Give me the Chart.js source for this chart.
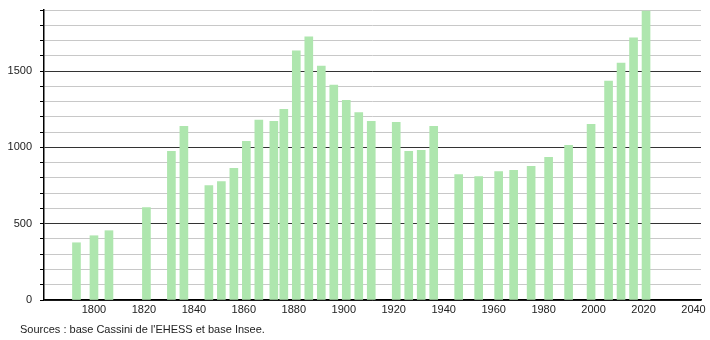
<!DOCTYPE html>
<html>
<head>
<meta charset="utf-8">
<script src="https://cdn.jsdelivr.net/npm/chart.js@4/dist/chart.umd.min.js"></script>
<style>
    body { margin: 0; background: #fff; }
    #wrap { position: relative; width: 710px; height: 340px; }
    #source {
        position: absolute; left: 20px; top: 323px;
        font: 11px "Liberation Sans", Arial, sans-serif; color: #222;
    }
</style>
</head>
<body>
<div id="wrap">
    <canvas id="popChart" width="710" height="340"></canvas>
    <div id="source">Sources : base Cassini de l'EHESS et base Insee.</div>
</div>
<script>
// Census years and population
const years = [1793, 1800, 1806, 1821, 1831, 1836, 1846, 1851, 1856, 1861, 1866, 1872, 1876,
    1881, 1886, 1891, 1896, 1901, 1906, 1911, 1921, 1926, 1931, 1936, 1946, 1954, 1962,
    1968, 1975, 1982, 1990, 1999, 2006, 2011, 2016, 2021];
const population = [375, 421, 454, 605, 974, 1138, 750, 776, 862, 1039, 1178, 1171, 1250,
    1632, 1724, 1533, 1408, 1309, 1228, 1171, 1164, 974, 980, 1138, 822, 809, 842,
    849, 875, 934, 1013, 1151, 1434, 1553, 1717, 1893];
const yTickLabels = [0, 500, 1000, 1500];
const xTickLabels = [1800, 1820, 1840, 1860, 1880, 1900, 1920, 1940, 1960, 1980, 2000, 2020, 2040];

const font = { family: '"Liberation Sans", Arial, sans-serif', size: 11 };
const tinyFont = { family: '"Liberation Sans", Arial, sans-serif', size: 1 };

const ctx = document.getElementById('popChart').getContext('2d');
const popChart = new Chart(ctx, {
    type: 'bar',
    data: {
        datasets: [{
            data: years.map((yr, i) => ({ x: yr, y: population[i] })),
            backgroundColor: '#aee6ae',
            borderWidth: 0,
            barThickness: 8
        }]
    },
    options: {
        responsive: false,
        animation: false,
        layout: { padding: { left: 0, right: 9, top: 10, bottom: 0 } },
        plugins: {
            legend: { display: false },
            tooltip: { enabled: false }
        },
        scales: {
            x: {
                type: 'linear',
                offset: false,
                min: 1780,
                max: 2043,
                grid: { display: false, drawTicks: false, offset: false },
                border: { display: true, color: '#000', width: 1.5 },
                afterBuildTicks: scale => {
                    scale.ticks = xTickLabels.map(v => ({ value: v }));
                },
                ticks: {
                    padding: 3,
                    color: '#222',
                    font: font,
                    maxRotation: 0,
                    autoSkip: false,
                    callback: v => String(v)
                },
                afterFit: scale => { scale.height = 40; }
            },
            y: {
                min: 0,
                max: 1900,
                grid: {
                    color: c => (c.tick.value % 500 === 0 ? '#333' : '#c8c8c8'),
                    tickColor: '#000',
                    tickLength: 4,
                    lineWidth: 1
                },
                border: { display: true, color: '#000', width: 1.5 },
                ticks: {
                    stepSize: 100,
                    padding: 8,
                    color: '#222',
                    font: c => (c.tick && yTickLabels.includes(c.tick.value) ? font : tinyFont),
                    autoSkip: false,
                    callback: v => yTickLabels.includes(v) ? String(v) : ''
                },
                afterFit: scale => { scale.width = 44; }
            }
        }
    }
});
</script>
</body>
</html>
